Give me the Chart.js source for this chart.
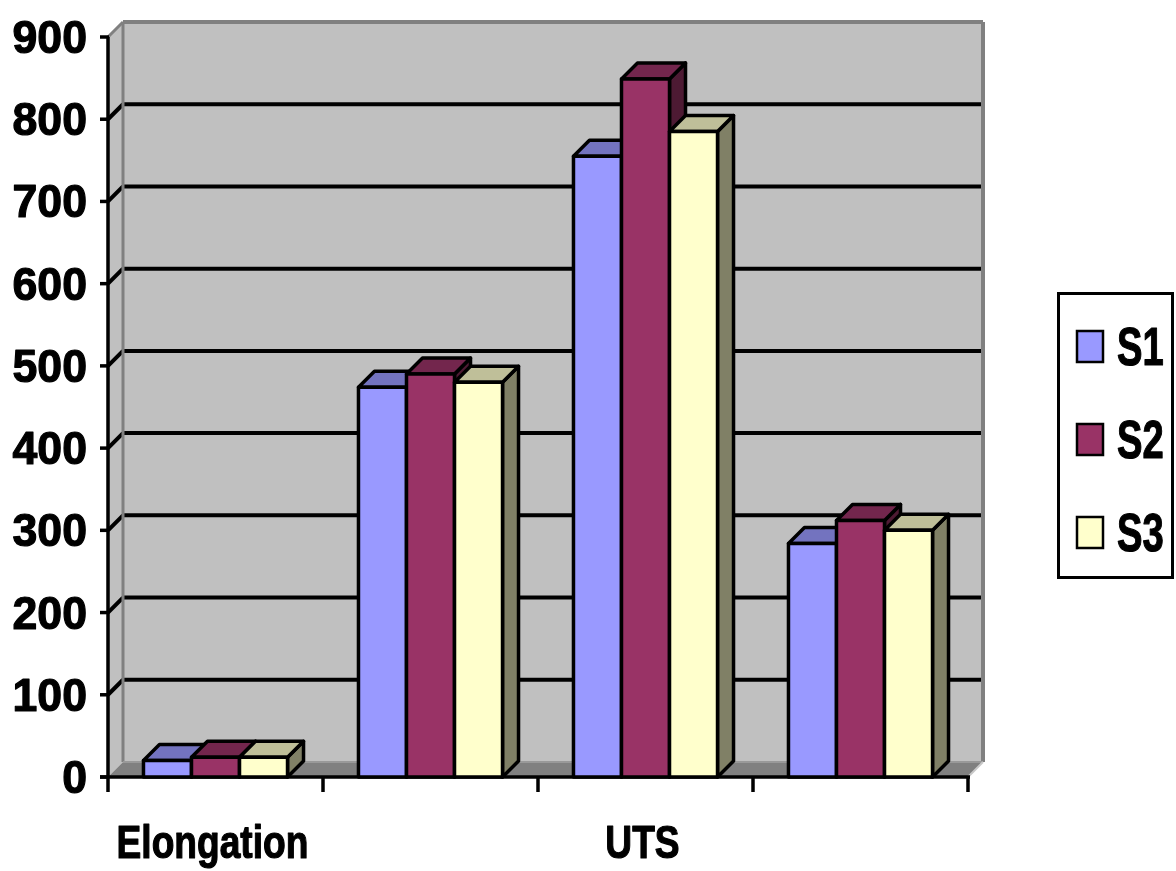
<!DOCTYPE html>
<html>
<head>
<meta charset="utf-8">
<script src="https://cdn.jsdelivr.net/npm/chart.js@4/dist/chart.umd.min.js"></script>
<style>
  html, body { margin: 0; padding: 0; background: #ffffff; }
  #wrap { width: 1176px; height: 871px; position: relative; }
</style>
</head>
<body>
<div id="wrap"><canvas id="c" width="1176" height="871"></canvas></div>
<script>
// Categories (only every other one carries a visible label)
const categories = ['Elongation', '', 'UTS', ''];

// Series values
const seriesNames = ['S1', 'S2', 'S3'];
const s1Values = [20, 474, 755, 284];
const s2Values = [24, 490, 849, 312];
const s3Values = [24, 480, 785, 300];

// Value axis
const yMin = 0;
const yMax = 900;
const yStep = 100;

// Face colours: front, top (shaded) and side (darker)
const frontColors = ['#9999FF', '#993366', '#FFFFCC'];
const topColors = ['#7373BF', '#73264D', '#BFBF99'];
const sideColors = ['#4D4D80', '#4D1A33', '#808066'];

const FONT = "'Liberation Sans', Arial, sans-serif";

const WALL_DEPTH = 15;
const BAR_DEPTH = 16;

function poly(ctx, pts, fill, stroke, lw) {
  ctx.beginPath();
  ctx.moveTo(pts[0][0], pts[0][1]);
  for (let i = 1; i < pts.length; i++) ctx.lineTo(pts[i][0], pts[i][1]);
  ctx.closePath();
  if (fill) { ctx.fillStyle = fill; ctx.fill(); }
  if (stroke) { ctx.strokeStyle = stroke; ctx.lineWidth = lw; ctx.stroke(); }
}

function line(ctx, x1, y1, x2, y2, color, lw) {
  ctx.beginPath();
  ctx.moveTo(x1, y1);
  ctx.lineTo(x2, y2);
  ctx.strokeStyle = color;
  ctx.lineWidth = lw;
  ctx.stroke();
}

// heavy bold text squeezed horizontally, like a condensed face
function condensedText(ctx, text, x, y, size, squeeze, align) {
  ctx.save();
  ctx.translate(x, y);
  ctx.scale(squeeze, 1);
  ctx.font = 'bold ' + size + 'px ' + FONT;
  ctx.fillStyle = '#000000';
  ctx.strokeStyle = '#000000';
  ctx.lineWidth = 1.2;
  ctx.lineJoin = 'round';
  ctx.textAlign = align;
  ctx.textBaseline = 'alphabetic';
  ctx.fillText(text, 0, 0);
  ctx.strokeText(text, 0, 0);
  ctx.restore();
}

// Walls, floor, gridlines and axes of the 3-D box
const boxPlugin = {
  id: 'box3d',
  beforeDatasetsDraw(chart) {
    const ctx = chart.ctx;
    const { left, right, top, bottom } = chart.chartArea;
    const ys = chart.scales.y;
    const D = WALL_DEPTH;
    ctx.save();
    ctx.lineJoin = 'round';
    ctx.lineCap = 'butt';

    // back wall
    poly(ctx, [[left + D, top - D], [right + D, top - D], [right + D, bottom - D], [left + D, bottom - D]], '#C0C0C0');
    // left side wall
    poly(ctx, [[left, top], [left + D, top - D], [left + D, bottom - D], [left, bottom]], '#C0C0C0');
    // floor
    poly(ctx, [[left, bottom], [left + D, bottom - D], [right + D, bottom - D], [right, bottom]], '#808080');

    // gridlines on the back wall and the side wall
    for (let v = yMin + yStep; v < yMax; v += yStep) {
      const py = ys.getPixelForValue(v);
      line(ctx, left + D, py - D, right + D, py - D, '#000000', 4);
      line(ctx, left, py, left + D, py - D, '#000000', 4);
    }

    // grey wall edges
    line(ctx, left + D, top - D, right + D, top - D, '#808080', 4);
    line(ctx, right + D, top - D, right + D, bottom - D, '#808080', 4);
    line(ctx, left + D, top - D, left + D, bottom - D, '#808080', 3);
    line(ctx, left, top, left + D, top - D, '#808080', 3);
    line(ctx, left + D, bottom - D, right + D, bottom - D, '#999999', 2);
    line(ctx, right, bottom, right + D, bottom - D, '#C8C8C8', 2);

    // value axis with outward ticks
    line(ctx, left, top, left, bottom, '#000000', 3.5);
    for (let v = yMin; v <= yMax; v += yStep) {
      const py = ys.getPixelForValue(v);
      line(ctx, left - 8, py, left + 1, py, '#000000', 3.5);
    }
    // category axis with ticks at category boundaries
    line(ctx, left - 8, bottom, right + 2, bottom, '#000000', 3.5);
    const n = categories.length;
    for (let i = 0; i <= n; i++) {
      const px = left + (right - left) * i / n;
      line(ctx, px, bottom, px, bottom + 15, '#000000', 3.5);
    }
    ctx.restore();
  },
  // bars drawn as blocks: side, top, then front, series by series in each category
  afterDatasetsDraw(chart) {
    const ctx = chart.ctx;
    const d = BAR_DEPTH;
    ctx.save();
    ctx.lineJoin = 'round';
    const metas = seriesNames.map((_, i) => chart.getDatasetMeta(i));
    for (let c = 0; c < categories.length; c++) {
      metas.forEach((meta, si) => {
        const bar = meta.data[c];
        const p = bar.getProps(['x', 'y', 'base', 'width'], true);
        const L = p.x - p.width / 2, R = p.x + p.width / 2, T = p.y, B = p.base;
        poly(ctx, [[R, T], [R + d, T - d], [R + d, B - d], [R, B]], sideColors[si], '#000000', 3.5);
        poly(ctx, [[L, T], [L + d, T - d], [R + d, T - d], [R, T]], topColors[si], '#000000', 3.5);
        poly(ctx, [[L, T], [R, T], [R, B], [L, B]], frontColors[si], '#000000', 3.5);
      });
    }
    ctx.restore();
  },
  afterDraw(chart) {
    const ctx = chart.ctx;
    const xs = chart.scales.x;
    const ys = chart.scales.y;
    const left = chart.chartArea.left;

    // value axis labels, from the scale's own ticks
    ys.ticks.forEach(t => {
      const py = ys.getPixelForValue(t.value);
      condensedText(ctx, String(t.value), left - 21, py + 16, 46, 0.97, 'right');
    });
    // category labels at the scale's tick positions
    xs.getLabels().forEach((lab, i) => {
      if (!lab) return;
      condensedText(ctx, lab, xs.getPixelForTick(i) - 3, 858, 47, 0.79, 'center');
    });

    // boxed legend on the right
    ctx.save();
    ctx.lineJoin = 'miter';
    ctx.strokeStyle = '#000000';
    ctx.lineWidth = 3;
    ctx.strokeRect(1058.5, 293.5, 114, 284);
    const centers = [346, 439, 532];
    seriesNames.forEach((name, i) => {
      const cy = centers[i];
      ctx.fillStyle = frontColors[i];
      ctx.fillRect(1077, cy - 15, 26, 31);
      ctx.lineWidth = 2.5;
      ctx.strokeStyle = '#000000';
      ctx.strokeRect(1077, cy - 15, 26, 31);
      condensedText(ctx, name, 1117, cy + 19, 53, 0.72, 'left');
    });
    ctx.restore();
  }
};

const seriesValues = [s1Values, s2Values, s3Values];

new Chart(document.getElementById('c'), {
  type: 'bar',
  data: {
    labels: categories,
    datasets: seriesNames.map((name, i) => ({
      label: name,
      data: seriesValues[i],
      backgroundColor: frontColors[i],
      borderWidth: 0,
      categoryPercentage: 0.67,
      barPercentage: 1.0
    }))
  },
  options: {
    responsive: false,
    animation: false,
    events: [],
    layout: { padding: { top: 37, right: 208, left: 0, bottom: 0 } },
    plugins: { legend: { display: false }, tooltip: { enabled: false } },
    scales: {
      x: {
        grid: { display: false, drawTicks: false },
        border: { display: false },
        ticks: { display: false, autoSkip: false },
        afterFit(scale) { scale.height = 94; }
      },
      y: {
        min: yMin, max: yMax,
        grid: { display: false, drawTicks: false },
        border: { display: false },
        ticks: { display: false, stepSize: yStep },
        afterFit(scale) { scale.width = 108; }
      }
    }
  },
  plugins: [boxPlugin]
});
</script>
</body>
</html>
